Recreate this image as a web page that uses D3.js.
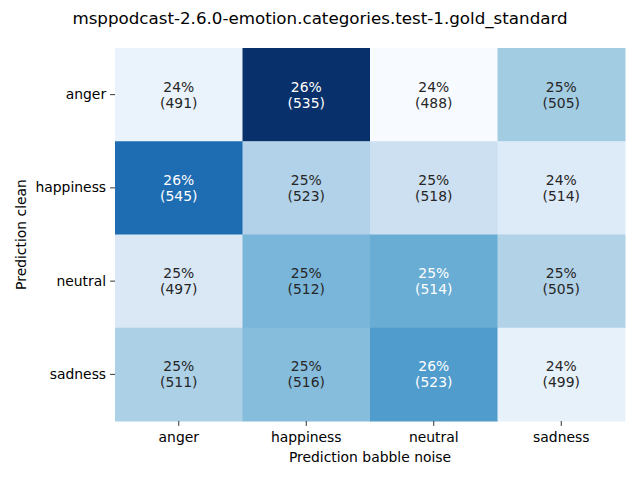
<!DOCTYPE html>
<html>
<head>
<meta charset="utf-8">
<script src="https://d3js.org/d3.v7.min.js"></script>
<style>
  body { margin: 0; background: #fff; }
  svg { display: block; font-family: "DejaVu Sans", sans-serif; }
  .axis path { display: none; }
  .axis line { stroke: #000; stroke-width: 0.8px; }
  .axis text { fill: #000; font-size: 13.9px; font-family: "DejaVu Sans", sans-serif; }
</style>
</head>
<body>
<svg id="chart" width="640" height="480"></svg>
<script>
// categories (rows = clean prediction, columns = babble noise prediction)
var rowLabels = ["anger", "happiness", "neutral", "sadness"];
var colLabels = ["anger", "happiness", "neutral", "sadness"];

// counts per cell
var counts = [
  [491, 535, 488, 505],
  [545, 523, 518, 514],
  [497, 512, 514, 505],
  [511, 516, 523, 499]
];

// matplotlib Blues stops
var bluesStops = ["#f7fbff", "#deebf7", "#c6dbef", "#9ecae1", "#6baed6",
                  "#4292c6", "#2171b5", "#08519c", "#08306b"];

var svg = d3.select("#chart");
var margin = {left: 115, right: 15, top: 48, bottom: 59};
var W = 640, H = 480;

var x = d3.scaleBand().domain(colLabels).range([margin.left, W - margin.right]);
var y = d3.scaleBand().domain(rowLabels).range([margin.top, H - margin.bottom]);

// row-normalised percentages
var cells = [];
counts.forEach(function(row, i) {
  var total = d3.sum(row);
  row.forEach(function(v, j) {
    cells.push({r: rowLabels[i], c: colLabels[j], n: v, p: v / total * 100});
  });
});

var pmin = d3.min(cells, function(d) { return d.p; });
var pmax = d3.max(cells, function(d) { return d.p; });

var cmap = d3.scaleLinear()
  .domain(bluesStops.map(function(s, i) { return i / (bluesStops.length - 1); }))
  .range(bluesStops)
  .interpolate(d3.interpolateRgb)
  .clamp(true);

function color(p) { return cmap((p - pmin) / (pmax - pmin)); }

function lum(c) {
  var rgb = d3.rgb(c);
  var f = function(v) { v /= 255; return v <= 0.03928 ? v / 12.92 : Math.pow((v + 0.055) / 1.055, 2.4); };
  return 0.2126 * f(rgb.r) + 0.7152 * f(rgb.g) + 0.0722 * f(rgb.b);
}

svg.selectAll("rect.cell")
  .data(cells)
  .enter().append("rect")
  .attr("class", "cell")
  .attr("x", function(d) { return x(d.c); })
  .attr("y", function(d) { return y(d.r); })
  .attr("width", x.bandwidth() + 0.5)
  .attr("height", y.bandwidth() + 0.5)
  .attr("fill", function(d) { return color(d.p); });

var labels = svg.selectAll("text.annot")
  .data(cells)
  .enter().append("text")
  .attr("class", "annot")
  .attr("text-anchor", "middle")
  .style("font-size", "13.9px")
  .attr("fill", function(d) { return lum(color(d.p)) > 0.408 ? "#262626" : "#ffffff"; });

labels.append("tspan")
  .attr("x", function(d) { return x(d.c) + x.bandwidth() / 2; })
  .attr("y", function(d) { return y(d.r) + y.bandwidth() / 2 - 3; })
  .text(function(d) { return Math.round(d.p) + "%"; });

labels.append("tspan")
  .attr("x", function(d) { return x(d.c) + x.bandwidth() / 2; })
  .attr("y", function(d) { return y(d.r) + y.bandwidth() / 2 + 13; })
  .text(function(d) { return "(" + d.n + ")"; });

svg.append("g")
  .attr("class", "axis")
  .attr("transform", "translate(0," + (H - margin.bottom) + ")")
  .call(d3.axisBottom(x).tickSize(4.9).tickPadding(6));

svg.append("g")
  .attr("class", "axis")
  .attr("transform", "translate(" + margin.left + ",0)")
  .call(d3.axisLeft(y).tickSize(4.9).tickPadding(4));

svg.append("text")
  .attr("x", (margin.left + W - margin.right) / 2)
  .attr("y", 462)
  .attr("text-anchor", "middle")
  .style("font-size", "13.9px")
  .text("Prediction babble noise");

svg.append("text")
  .attr("transform", "translate(26," + ((margin.top + H - margin.bottom) / 2) + ") rotate(-90)")
  .attr("text-anchor", "middle")
  .style("font-size", "13.9px")
  .text("Prediction clean");

svg.append("text")
  .attr("x", W / 2)
  .attr("y", 24)
  .attr("text-anchor", "middle")
  .style("font-size", "16.7px")
  .text("msppodcast-2.6.0-emotion.categories.test-1.gold_standard");
</script>
</body>
</html>
